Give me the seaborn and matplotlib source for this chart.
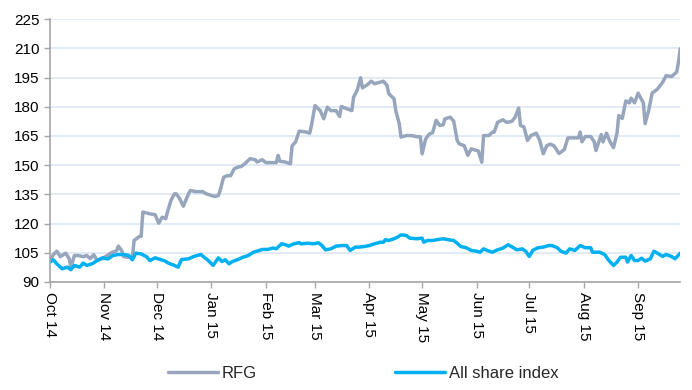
import pandas as pd
import numpy as np
import matplotlib
matplotlib.use("Agg")
import matplotlib.pyplot as plt
import matplotlib.dates as mdates
import seaborn as sns

sns.set_style("white")
plt.rcParams['font.family'] = ['Liberation Sans', 'DejaVu Sans']

# Data: days since 1 Oct 2014 and index level
start = pd.Timestamp("2014-10-01")

rfg_days = [0, 2, 4, 6, 9, 11, 12, 14, 16, 19, 21, 23, 25, 27, 30, 35, 38, 39, 41, 42,
            46, 47, 48, 51, 52, 53, 57, 60, 62, 64, 66, 67, 69, 71, 72, 74, 76, 79, 80, 83,
            87, 89, 92, 94, 96, 97, 99, 101, 103, 105, 107, 109, 111, 114, 117, 118, 121, 123, 126, 129,
            130, 131, 134, 137, 138, 140, 142, 146, 148, 149, 151, 154, 156, 158, 160, 163, 165, 166, 169, 172,
            173, 175, 177, 178, 181, 183, 185, 188, 190, 192, 193, 196, 197, 199, 200, 203, 206, 209, 211, 212,
            214, 216, 218, 220, 222, 224, 225, 228, 230, 232, 233, 236, 238, 240, 242, 244, 246, 247, 250, 252,
            253, 255, 258, 260, 263, 265, 267, 268, 270, 272, 274, 277, 279, 281, 283, 285, 287, 290, 293, 295,
            301, 302, 303, 305, 308, 310, 311, 314, 315, 317, 319, 321, 323, 324, 326, 328, 330, 331, 333, 335,
            338, 339, 341, 343, 346, 349, 351, 354, 357, 358, 359]
rfg_vals = [101, 104, 105.8, 103, 104.8, 102, 97.6, 103.6, 103.6, 103, 103.6, 102, 104, 101, 102, 105, 106, 108.4, 106, 103,
            102.5, 102.5, 111.3, 113.4, 113.4, 125.9, 125, 124.5, 120.2, 123.3, 122.5, 126, 131.9, 135.3, 135.3, 132.7, 128.9, 135.3, 137, 136.4,
            136.4, 135.3, 134.4, 133.9, 134.4, 137, 143.8, 144.6, 144.6, 148.1, 149, 149.3, 150.7, 153.3, 152.8, 151.6, 152.8, 151.3, 151.3, 151.3,
            155, 152, 151.6, 150.7, 160, 162, 167.5, 167, 166.4, 170.4, 180.6, 178, 173.8, 179.8, 178, 178, 175, 180.1, 179, 178,
            184.9, 188.4, 194.9, 189.7, 191.4, 193.1, 191.8, 192.6, 193.1, 191, 186.7, 184.1, 178, 171.2, 164.4, 165.2, 165.2, 164.6, 164.6, 155.8,
            163.4, 165.9, 166.7, 173, 170.4, 170.7, 173.8, 174.6, 172.6, 162.7, 161, 160, 155, 158.4, 157.8, 157.3, 151.5, 165.2, 165.2, 166.9,
            166.9, 172, 173.3, 172, 172.4, 174.6, 179.3, 170.4, 169.6, 162.7, 165.2, 166.4, 162.7, 155.8, 160, 160.8, 160, 156, 158, 164,
            164, 167, 162, 164.7, 164.7, 162, 157.5, 165.7, 162, 166.4, 162, 159, 166.4, 175.5, 174, 183, 182, 184.4, 182, 187,
            182, 171.3, 178, 187, 189, 192.6, 196, 195.5, 197.8, 203, 209.8]

idx_days = [0, 2, 4, 7, 10, 12, 14, 17, 19, 21, 24, 27, 30, 33, 36, 39, 42, 45, 47, 49,
            52, 55, 57, 60, 62, 65, 68, 71, 73, 75, 79, 82, 86, 88, 90, 93, 96, 98, 100, 102,
            104, 107, 110, 113, 116, 118, 121, 124, 127, 129, 132, 134, 136, 139, 142, 143, 147, 150, 153, 155,
            157, 160, 163, 166, 169, 171, 174, 176, 179, 182, 185, 188, 190, 191, 193, 196, 198, 200, 203, 205,
            209, 212, 213, 215, 218, 221, 224, 227, 230, 232, 234, 237, 240, 243, 245, 247, 249, 252, 255, 258,
            261, 264, 266, 269, 271, 273, 275, 278, 281, 284, 286, 289, 291, 294, 296, 299, 302, 305, 308, 309,
            313, 316, 318, 321, 323, 325, 328, 329, 331, 333, 335, 337, 339, 342, 344, 346, 349, 351, 354, 356,
            359]
idx_vals = [100.2, 101.4, 99.3, 96.8, 97.6, 96.3, 98.5, 97.6, 99.7, 98.5, 99.3, 101, 102.4, 101.8, 103.6, 104.1, 104.1, 103.6, 101.4, 104.8,
            104.4, 103, 101, 102.4, 101.8, 101, 99.5, 98.5, 97.6, 101.5, 101.9, 103.1, 104.1, 102.6, 101.2, 98.5, 102.4, 100.5, 101.4, 99.3,
            100.5, 101.5, 102.7, 103.6, 105.3, 105.8, 106.7, 106.7, 107.4, 107.1, 109.6, 109.2, 108.4, 109.6, 110.2, 109.6, 109.9, 109.6, 110.1, 108.7,
            106.5, 107, 108.4, 108.7, 108.7, 106.2, 107.9, 107.9, 108.2, 108.7, 109.6, 110.4, 110.4, 111.7, 111.3, 112.2, 113, 114.2, 113.9, 112.5,
            112.2, 112.5, 110.4, 111.3, 111.3, 111.8, 112.2, 111.7, 111.3, 109.9, 108.2, 107.6, 106.2, 105.8, 105.3, 107, 106.2, 105.3, 106.5, 107.4,
            109.1, 107.6, 106.5, 107, 105.8, 103.1, 106.2, 107.6, 107.9, 108.7, 108.7, 107.6, 105.8, 104.8, 107, 106.2, 108.7, 107.6, 107.6, 105.3,
            105.3, 104.1, 101.4, 98.5, 100.2, 102.7, 102.7, 100.2, 103.6, 101, 101, 102.2, 100.7, 101.9, 105.8, 104.8, 103.1, 104.1, 103.1, 101.9,
            104.8]

y_ticks = [90, 105, 120, 135, 150, 165, 180, 195, 210, 225]

rfg = pd.DataFrame({'date': start + pd.to_timedelta(rfg_days, unit='D'), 'value': rfg_vals})
idx = pd.DataFrame({'date': start + pd.to_timedelta(idx_days, unit='D'), 'value': idx_vals})

fig, ax = plt.subplots(figsize=(6.92, 3.9), dpi=100)
fig.subplots_adjust(left=0.072, right=0.983, top=0.951, bottom=0.277)

sns.lineplot(data=rfg, x='date', y='value', ax=ax, color='#97a6bd', linewidth=2.5, label='RFG')
sns.lineplot(data=idx, x='date', y='value', ax=ax, color='#00b0f0', linewidth=2.5, label='All share index')

ax.set_ylim(90, 225)
ax.set_yticks(y_ticks)
ax.set_xlim(start, start + pd.Timedelta(days=359))
ax.xaxis.set_major_locator(mdates.MonthLocator())
ax.xaxis.set_major_formatter(mdates.DateFormatter('%b %y'))
plt.setp(ax.get_xticklabels(), rotation=-90, ha='center', va='top')

ax.grid(axis='y', color='#dde8f4', linewidth=1.2)
ax.grid(axis='x', visible=False)
ax.set_axisbelow(True)
for s in ['top', 'right']:
    ax.spines[s].set_visible(False)
for s in ['left', 'bottom']:
    ax.spines[s].set_color('#a6a6a6')
    ax.spines[s].set_linewidth(1.2)
ax.tick_params(axis='both', which='major', length=4, width=1, color='#a6a6a6',
               labelsize=11, labelcolor='black', direction='out', left=True, bottom=True)
ax.set_xlabel('')
ax.set_ylabel('')

ax.get_legend().remove()
handles, labels = ax.get_legend_handles_labels()
fig.legend(handles, labels, loc='lower center', bbox_to_anchor=(0.525, -0.015), ncol=2,
           frameon=False, fontsize=12, handlelength=3, handletextpad=0.2, columnspacing=8.3)

plt.savefig('out.png', dpi=100)
